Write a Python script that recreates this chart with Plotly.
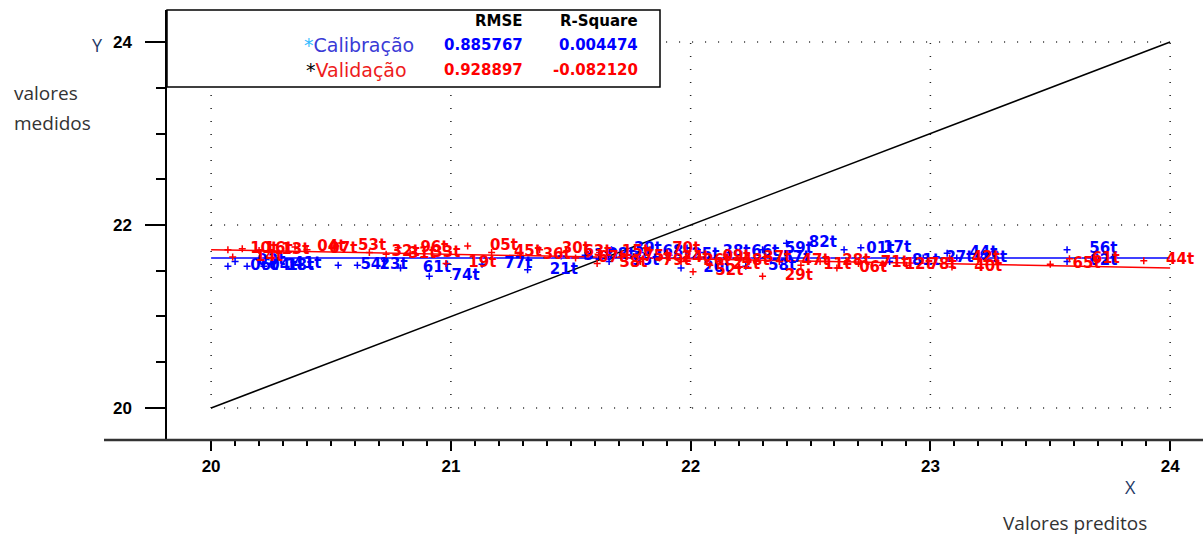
import plotly.graph_objects as go

# ---------------- data ----------------
cal_x = [20.07, 20.15, 20.22, 20.25, 20.10, 20.53, 20.61, 20.79, 20.91, 21.13,
         21.32, 21.46, 21.56, 21.66, 21.67, 21.79, 21.91, 21.96, 22.04, 22.16,
         22.23, 22.29, 22.30, 22.40, 22.64, 22.71, 22.83, 22.97, 23.07, 23.11,
         23.57, 23.57]
cal_y = [21.55, 21.55, 21.55, 21.57, 21.60, 21.56, 21.56, 21.53, 21.44, 21.57,
         21.51, 21.66, 21.67, 21.60, 21.73, 21.70, 21.67, 21.53, 21.70, 21.70,
         21.55, 21.64, 21.73, 21.80, 21.73, 21.75, 21.60, 21.64, 21.69, 21.64,
         21.73, 21.60]
cal_lab = ["06t", "04t", "18t", "41t", "03t", "54t", "23t", "61t", "74t", "77t",
           "21t", "31t", "08t", "35t", "39t", "68t", "25t", "20t", "38t", "66t",
           "58t", "57t", "59t", "82t", "01t", "17t", "81t", "27t", "44t", "43t",
           "56t", "62t"]

val_x = [20.07, 20.13, 20.09, 20.20, 20.35, 20.40, 20.52, 20.66, 20.73, 20.78,
         20.83, 20.98, 21.07, 21.17, 21.29, 21.37, 21.46, 21.52, 21.61, 21.62,
         21.71, 21.79, 21.83, 21.87, 21.96, 22.01, 22.04, 22.08, 22.12, 22.21,
         22.30, 22.37, 22.46, 22.54, 22.61, 22.70, 22.80, 22.90, 23.08, 23.09,
         23.50, 23.58, 23.89]
val_y = [21.73, 21.74, 21.65, 21.72, 21.76, 21.73, 21.77, 21.70, 21.68, 21.75,
         21.69, 21.58, 21.77, 21.70, 21.67, 21.73, 21.70, 21.64, 21.58, 21.70,
         21.65, 21.60, 21.73, 21.64, 21.60, 21.49, 21.65, 21.56, 21.60, 21.64,
         21.44, 21.60, 21.56, 21.60, 21.53, 21.58, 21.56, 21.56, 21.64, 21.54,
         21.57, 21.63, 21.61]
val_lab = ["10t", "16t", "14t", "13t", "04t", "07t", "53t", "32t", "31t", "96t",
           "33t", "19t", "05t", "45t", "36t", "30t", "63t", "67t", "38t", "15t",
           "75t", "79t", "70t", "24t", "26t", "52t", "09t", "22t", "48t", "37t",
           "29t", "47t", "11t", "28t", "06t", "71t", "12t", "78t", "42t", "40t",
           "65t", "61t", "44t"]

# regression lines (end points) and target line
reg_x = [20, 24]
cal_fit = [21.64, 21.64]
val_fit = [21.73, 21.53]
target_x = [20, 24]
target_y = [20, 24]

x_major = [20, 21, 22, 23, 24]
y_major = [20, 22, 24]
y_minor = [20.5, 21, 21.5, 22.5, 23, 23.5]
x_minor = [round(20 + i * 0.1, 1) for i in range(41) if i % 10 != 0]

stats_head = ["RMSE", "R-Square"]
cal_stats = ["0.885767", "0.004474"]
val_stats = ["0.928897", "-0.082120"]

BLUE = "#0000ff"
RED = "#ff0000"

fig = go.Figure()

# dotted grid inside 20..24
gx, gy = [], []
for v in x_major:
    gx += [v, v, None]
    gy += [y_major[0], y_major[-1], None]
for v in y_major:
    gx += [x_major[0], x_major[-1], None]
    gy += [v, v, None]
fig.add_trace(go.Scatter(x=gx, y=gy, mode="lines",
                         line=dict(color="#222222", width=1.5, dash="1px,12px"),
                         hoverinfo="skip"))

# target line
fig.add_trace(go.Scatter(x=target_x, y=target_y, mode="lines",
                         line=dict(color="black", width=1.5)))

# regression lines
fig.add_trace(go.Scatter(x=reg_x, y=cal_fit, mode="lines",
                         line=dict(color=BLUE, width=1.5)))
fig.add_trace(go.Scatter(x=reg_x, y=val_fit, mode="lines",
                         line=dict(color=RED, width=1.5)))

lab_font = dict(family="DejaVu Sans", size=15, weight="bold")

for xs, ys, labs, col in [(cal_x, cal_y, cal_lab, BLUE), (val_x, val_y, val_lab, RED)]:
    fig.add_trace(go.Scatter(x=xs, y=ys, mode="markers",
                             marker=dict(symbol="cross-thin", size=5,
                                         line=dict(color=col, width=1.5))))
    fig.add_trace(go.Scatter(x=xs, y=ys, mode="markers+text", text=labs,
                             textposition="middle right",
                             textfont=dict(color=col, **lab_font),
                             marker=dict(size=34, color="rgba(0,0,0,0)",
                                         line=dict(width=0))))

W, H = 1203, 539
L, R, T, B = 167, 0, 10, 99
pw, ph = W - L - R, H - T - B


def px(x):
    return (x - L) / pw


def py(y):
    return (H - B - y) / ph


tick_font = dict(family="Liberation Sans", size=17, color="black", weight="bold")

fig.update_layout(
    width=W, height=H,
    margin=dict(l=L, r=R, t=T, b=B),
    paper_bgcolor="white", plot_bgcolor="white",
    showlegend=False,
    xaxis=dict(range=[19.816, 24.137], showgrid=False, zeroline=False,
               showline=False,
               tickmode="array", tickvals=x_major,
               ticktext=[str(v) for v in x_major],
               ticks="outside", ticklen=10, tickwidth=1.5, tickcolor="black",
               tickfont=tick_font, ticklabelstandoff=1,
               minor=dict(tickmode="array", tickvals=x_minor, ticks="outside",
                          ticklen=5, tickwidth=1.5, tickcolor="black",
                          showgrid=False)),
    yaxis=dict(range=[19.650, 24.350], showgrid=False, zeroline=False,
               showline=True, linecolor="black", linewidth=1.5,
               tickmode="array", tickvals=y_major,
               ticktext=[str(v) for v in y_major],
               ticks="outside", ticklen=20, tickwidth=1.5, tickcolor="black",
               tickfont=tick_font, ticklabelstandoff=10,
               minor=dict(tickmode="array", tickvals=y_minor, ticks="outside",
                          ticklen=9, tickwidth=1.5, tickcolor="black",
                          showgrid=False)),
)

shapes = [
    # x axis line extending left of y axis
    dict(type="line", xref="paper", yref="paper", x0=px(104), x1=1, y0=0, y1=0,
         line=dict(color="#333333", width=2.5), layer="above"),
    # statistics box
    dict(type="rect", xref="paper", yref="paper", x0=0, x1=px(660),
         y0=py(87), y1=1, line=dict(color="black", width=1.5),
         fillcolor="white", layer="above"),
]
fig.update_layout(shapes=shapes)

ann = []
hdr_font = dict(family="DejaVu Sans", size=15, color="black", weight="bold")
cols = [525, 640]
for c, t in zip(cols, stats_head):
    ann.append(dict(x=px(c), y=py(21), xref="paper", yref="paper", text=t,
                    showarrow=False, xanchor="right", yanchor="middle",
                    font=hdr_font))
for c, t in zip(cols, cal_stats):
    ann.append(dict(x=px(c), y=py(45), xref="paper", yref="paper", text=t,
                    showarrow=False, xanchor="right", yanchor="middle",
                    font=dict(family="DejaVu Sans", size=15, color=BLUE,
                              weight="bold")))
for c, t in zip(cols, val_stats):
    ann.append(dict(x=px(c), y=py(70), xref="paper", yref="paper", text=t,
                    showarrow=False, xanchor="right", yanchor="middle",
                    font=dict(family="DejaVu Sans", size=15, color=RED,
                              weight="bold")))
ann.append(dict(x=px(416), y=py(45), xref="paper", yref="paper",
                text="<span style='color:#33bbff'>*</span>Calibração",
                showarrow=False, xanchor="right", yanchor="middle",
                font=dict(family="DejaVu Sans", size=19, color="#3a3ad6")))
ann.append(dict(x=px(409), y=py(70), xref="paper", yref="paper",
                text="<span style='color:black'>*</span>Validação",
                showarrow=False, xanchor="right", yanchor="middle",
                font=dict(family="DejaVu Sans", size=19, color="#ee1c1c")))

side_font = dict(family="Open Sans", size=19, color="#333333")
ann.append(dict(x=px(97), y=py(45), xref="paper", yref="paper", text="Y",
                showarrow=False, xanchor="center", yanchor="middle",
                font=dict(family="Open Sans", size=18, color="#1f3a66")))
ann.append(dict(x=px(12), y=py(93), xref="paper", yref="paper", text="valores",
                showarrow=False, xanchor="left", yanchor="middle", font=side_font))
ann.append(dict(x=px(12), y=py(123), xref="paper", yref="paper", text="medidos",
                showarrow=False, xanchor="left", yanchor="middle", font=side_font))
ann.append(dict(x=px(1130), y=py(487), xref="paper", yref="paper", text="X",
                showarrow=False, xanchor="center", yanchor="middle",
                font=dict(family="Open Sans", size=18, color="#1f3a66")))
ann.append(dict(x=px(1075), y=py(523), xref="paper", yref="paper",
                text="Valores preditos",
                showarrow=False, xanchor="center", yanchor="middle", font=side_font))
fig.update_layout(annotations=ann)

fig.write_html("out.html")
